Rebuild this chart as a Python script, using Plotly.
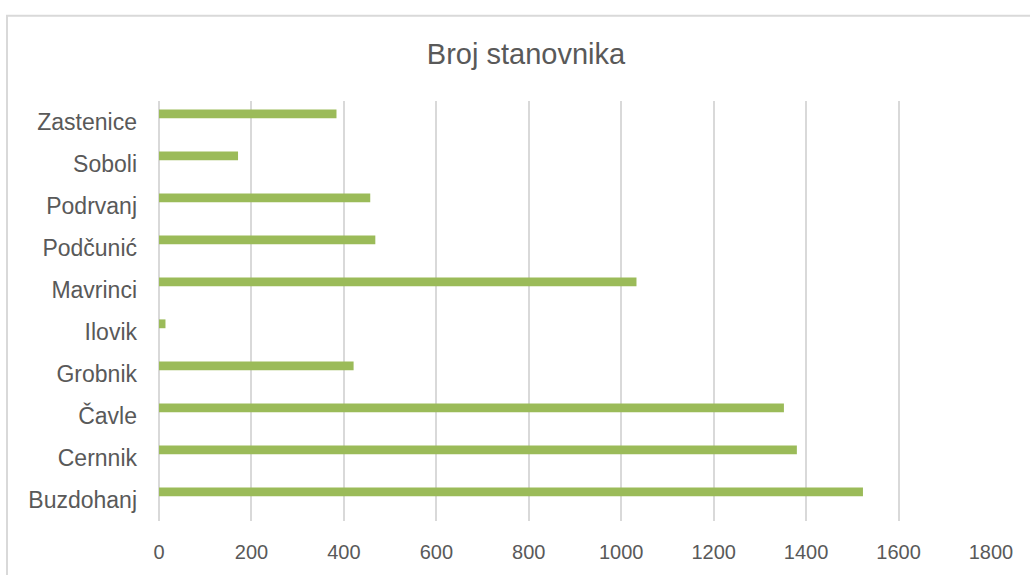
import plotly.graph_objects as go

categories = ["Buzdohanj", "Cernnik", "Čavle", "Grobnik", "Ilovik",
              "Mavrinci", "Podčunić", "Podrvanj", "Soboli", "Zastenice"]
values = [1523, 1380, 1352, 421, 14, 1033, 468, 457, 171, 384]
x_ticks = [0, 200, 400, 600, 800, 1000, 1200, 1400, 1600, 1800]

W, H = 1030, 575
L, R, T, B = 159, 39, 101, 46
pw, ph = W - L - R, H - T - B

fig = go.Figure()
fig.add_trace(go.Bar(
    y=categories, x=values, orientation="h",
    marker=dict(color="#9bbb59", line=dict(width=0)),
    width=0.21, offset=0.09,
    hoverinfo="x+y",
))

fig.update_layout(
    width=W, height=H,
    margin=dict(l=L, r=R, t=T, b=B, pad=0),
    paper_bgcolor="white", plot_bgcolor="white",
    showlegend=False,
    font=dict(family="Liberation Sans, Arial, sans-serif", color="#595959"),
    title=dict(text="Broj stanovnika", x=526 / W, xanchor="center",
               xref="container",
               y=1 - 54 / H, yref="container", yanchor="middle",
               font=dict(size=29, color="#595959",
                         family="Liberation Sans, Arial, sans-serif")),
    xaxis=dict(range=[0, 1800], tickvals=x_ticks, ticktext=[str(v) for v in x_ticks],
               showgrid=True, gridcolor="#d9d9d9", gridwidth=1.5,
               zeroline=True, zerolinecolor="#d9d9d9", zerolinewidth=1.5,
               showline=False, ticks="", ticklabelstandoff=17,
               tickfont=dict(size=20, color="#595959")),
    yaxis=dict(type="category", categoryorder="array", categoryarray=categories,
               range=[-0.5, 9.5], showgrid=False, zeroline=False, showline=False,
               ticks="", ticklabelstandoff=21,
               tickfont=dict(size=23, color="#595959")),
    shapes=[dict(type="rect", xref="paper", yref="paper",
                 x0=(7 - L) / pw, x1=1.3, y0=-0.5, y1=1 + (T - 14) / ph,
                 line=dict(color="#d9d9d9", width=2), fillcolor="rgba(0,0,0,0)",
                 layer="below")],
)

fig.write_html("out.html", config={"displayModeBar": False},
               post_script="document.body.style.margin='0';document.body.style.overflow='hidden';")
